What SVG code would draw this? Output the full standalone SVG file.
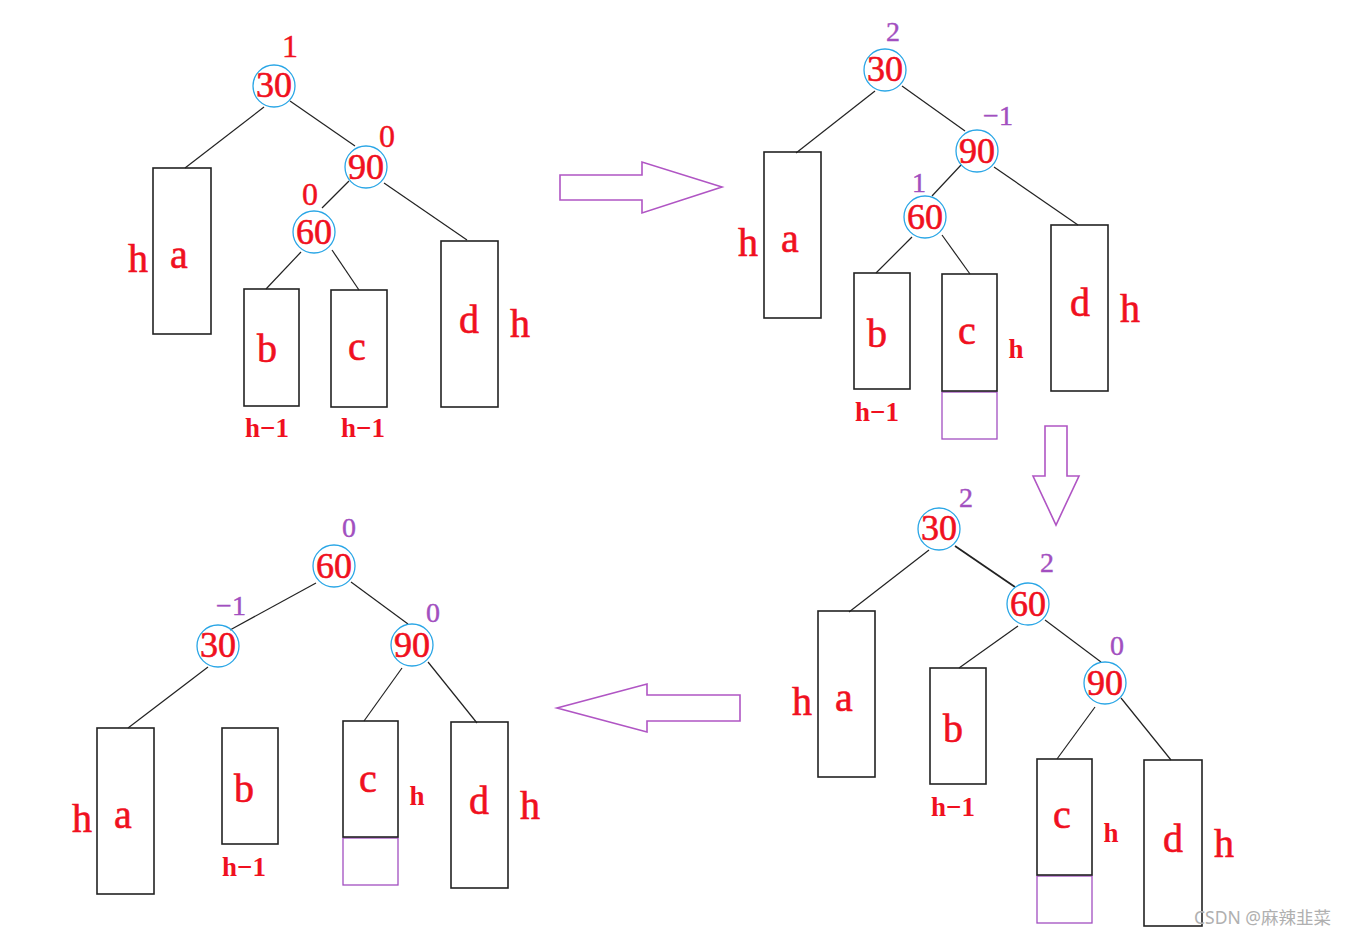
<svg xmlns="http://www.w3.org/2000/svg" width="1345" height="937" viewBox="0 0 1345 937">
<style>
.bg{fill:#ffffff}
.node circle{fill:none;stroke:#2aa6e6;stroke-width:1.3}
.box rect{fill:none;stroke:#222;stroke-width:1.6}
.box rect.ext{fill:none;stroke:#a24fc0;stroke-width:1.3}
.num{font-family:"Liberation Serif",serif;font-size:36px;fill:#f01020;stroke:#f01020;stroke-width:0.6;text-anchor:middle}
.let{font-family:"Liberation Serif",serif;font-size:40px;fill:#f01020;stroke:#f01020;stroke-width:0.6;text-anchor:middle}
.hs{font-family:"Liberation Serif",serif;font-size:27px;font-weight:bold;fill:#f01020;text-anchor:middle}
.bal{font-family:"Liberation Serif",serif;font-size:32px;fill:#f01020;stroke:#f01020;stroke-width:0.4;text-anchor:middle}
.balp{font-family:"Liberation Serif",serif;font-size:28px;fill:#a24fc0;stroke:#a24fc0;stroke-width:0.4;text-anchor:middle}
.conn line{stroke:#222;stroke-width:1.2}
.arrow{fill:none;stroke:#b055c4;stroke-width:1.6}
.wm{font-family:"Noto Sans","Noto Sans CJK SC",sans-serif;font-size:17.5px;fill:#b0b0b0}
</style>
<rect class="bg" x="0" y="0" width="1345" height="937"/>

<!-- Panel 1 -->
<g id="p1-connectors" class="conn">
<line x1="264" y1="107" x2="185" y2="168"/>
<line x1="290" y1="101" x2="355" y2="146"/>
<line x1="349" y1="181" x2="322" y2="208"/>
<line x1="384" y1="183" x2="467" y2="240"/>
<line x1="301" y1="252" x2="266" y2="289"/>
<line x1="332" y1="250" x2="359" y2="290"/>
</g>
<g id="p1-n30" class="node"><circle cx="274" cy="86" r="21"/><text class="num" x="274" y="97">30</text><text class="bal" x="290" y="57">1</text></g>
<g id="p1-n90" class="node"><circle cx="366" cy="167" r="21"/><text class="num" x="366" y="179">90</text><text class="bal" x="387" y="147">0</text></g>
<g id="p1-n60" class="node"><circle cx="314" cy="232" r="21"/><text class="num" x="314" y="244">60</text><text class="bal" x="310" y="205">0</text></g>
<g id="p1-a" class="box"><rect x="153" y="168" width="58" height="166"/><text class="let" x="179" y="268">a</text><text class="let" x="138" y="272">h</text></g>
<g id="p1-b" class="box"><rect x="244" y="289" width="55" height="117"/><text class="let" x="267" y="362">b</text><text class="hs" x="267" y="437">h−1</text></g>
<g id="p1-c" class="box"><rect x="331" y="290" width="56" height="117"/><text class="let" x="357" y="360">c</text><text class="hs" x="363" y="437">h−1</text></g>
<g id="p1-d" class="box"><rect x="441" y="241" width="57" height="166"/><text class="let" x="469" y="333">d</text><text class="let" x="520" y="337">h</text></g>

<!-- Arrows -->
<g id="arrow-right"><polygon class="arrow" points="560,175 642,175 642,162 722,187 642,213 642,200 560,200"/></g>
<g id="arrow-down"><polygon class="arrow" points="1045,426 1067,426 1067,476 1079,476 1056,525 1033,476 1045,476"/></g>
<g id="arrow-left"><polygon class="arrow" points="740,695 647,695 647,684 557,708 647,732 647,721 740,721"/></g>

<!-- Panel 2 -->
<g id="p2-connectors" class="conn">
<line x1="875" y1="91" x2="796" y2="153"/>
<line x1="902" y1="86" x2="965" y2="131"/>
<line x1="961" y1="165" x2="932" y2="196"/>
<line x1="994" y1="167" x2="1078" y2="225"/>
<line x1="912" y1="237" x2="876" y2="273"/>
<line x1="942" y1="235" x2="970" y2="274"/>
</g>
<g id="p2-n30" class="node"><circle cx="885" cy="70" r="21"/><text class="num" x="885" y="81">30</text><text class="balp" x="893" y="41">2</text></g>
<g id="p2-n90" class="node"><circle cx="977" cy="151" r="21"/><text class="num" x="977" y="163">90</text><text class="balp" x="998" y="125">−1</text></g>
<g id="p2-n60" class="node"><circle cx="925" cy="217" r="21"/><text class="num" x="925" y="229">60</text><text class="balp" x="919" y="192">1</text></g>
<g id="p2-a" class="box"><rect x="764" y="152" width="57" height="166"/><text class="let" x="790" y="252">a</text><text class="let" x="748" y="256">h</text></g>
<g id="p2-b" class="box"><rect x="854" y="273" width="56" height="116"/><text class="let" x="877" y="347">b</text><text class="hs" x="877" y="421">h−1</text></g>
<g id="p2-c" class="box"><rect class="ext" x="942" y="392" width="55" height="47"/><rect x="942" y="274" width="55" height="117"/><text class="let" x="967" y="344">c</text><text class="hs" x="1016" y="358">h</text></g>
<g id="p2-d" class="box"><rect x="1051" y="225" width="57" height="166"/><text class="let" x="1080" y="316">d</text><text class="let" x="1130" y="322">h</text></g>

<!-- Panel 4 (bottom right) -->
<g id="p4-connectors" class="conn">
<line x1="929" y1="550" x2="849" y2="612"/>
<line x1="955" y1="546" x2="1015" y2="587" style="stroke-width:1.8"/>
<line x1="1018" y1="626" x2="959" y2="668"/>
<line x1="1045" y1="620" x2="1101" y2="662"/>
<line x1="1095" y1="707" x2="1057" y2="759"/>
<line x1="1121" y1="698" x2="1171" y2="760"/>
</g>
<g id="p4-n30" class="node"><circle cx="939" cy="529" r="21"/><text class="num" x="939" y="540">30</text><text class="balp" x="966" y="507">2</text></g>
<g id="p4-n60" class="node"><circle cx="1028" cy="604" r="21"/><text class="num" x="1028" y="616">60</text><text class="balp" x="1047" y="572">2</text></g>
<g id="p4-n90" class="node"><circle cx="1105" cy="683" r="21"/><text class="num" x="1105" y="695">90</text><text class="balp" x="1117" y="655">0</text></g>
<g id="p4-a" class="box"><rect x="818" y="611" width="57" height="166"/><text class="let" x="844" y="711">a</text><text class="let" x="802" y="715">h</text></g>
<g id="p4-b" class="box"><rect x="930" y="668" width="56" height="116"/><text class="let" x="953" y="742">b</text><text class="hs" x="953" y="816">h−1</text></g>
<g id="p4-c" class="box"><rect class="ext" x="1037" y="876" width="55" height="47"/><rect x="1037" y="759" width="55" height="116"/><text class="let" x="1062" y="828">c</text><text class="hs" x="1111" y="842">h</text></g>
<g id="p4-d" class="box"><rect x="1144" y="760" width="58" height="166"/><text class="let" x="1173" y="852">d</text><text class="let" x="1224" y="857">h</text></g>

<!-- Panel 3 (bottom left) -->
<g id="p3-connectors" class="conn">
<line x1="316" y1="583" x2="230" y2="630"/>
<line x1="351" y1="582" x2="408" y2="624"/>
<line x1="208" y1="667" x2="128" y2="728"/>
<line x1="402" y1="668" x2="364" y2="721"/>
<line x1="428" y1="662" x2="477" y2="723"/>
</g>
<g id="p3-n60" class="node"><circle cx="334" cy="566" r="21"/><text class="num" x="334" y="578">60</text><text class="balp" x="349" y="537">0</text></g>
<g id="p3-n30" class="node"><circle cx="218" cy="646" r="21"/><text class="num" x="218" y="657">30</text><text class="balp" x="231" y="615">−1</text></g>
<g id="p3-n90" class="node"><circle cx="412" cy="645" r="21"/><text class="num" x="412" y="657">90</text><text class="balp" x="433" y="622">0</text></g>
<g id="p3-a" class="box"><rect x="97" y="728" width="57" height="166"/><text class="let" x="123" y="828">a</text><text class="let" x="82" y="832">h</text></g>
<g id="p3-b" class="box"><rect x="222" y="728" width="56" height="116"/><text class="let" x="244" y="802">b</text><text class="hs" x="244" y="876">h−1</text></g>
<g id="p3-c" class="box"><rect class="ext" x="343" y="838" width="55" height="47"/><rect x="343" y="721" width="55" height="116"/><text class="let" x="368" y="792">c</text><text class="hs" x="417" y="805">h</text></g>
<g id="p3-d" class="box"><rect x="451" y="722" width="57" height="166"/><text class="let" x="479" y="814">d</text><text class="let" x="530" y="819">h</text></g>

<text class="wm" x="1194" y="924">CSDN @麻辣韭菜</text>
</svg>
